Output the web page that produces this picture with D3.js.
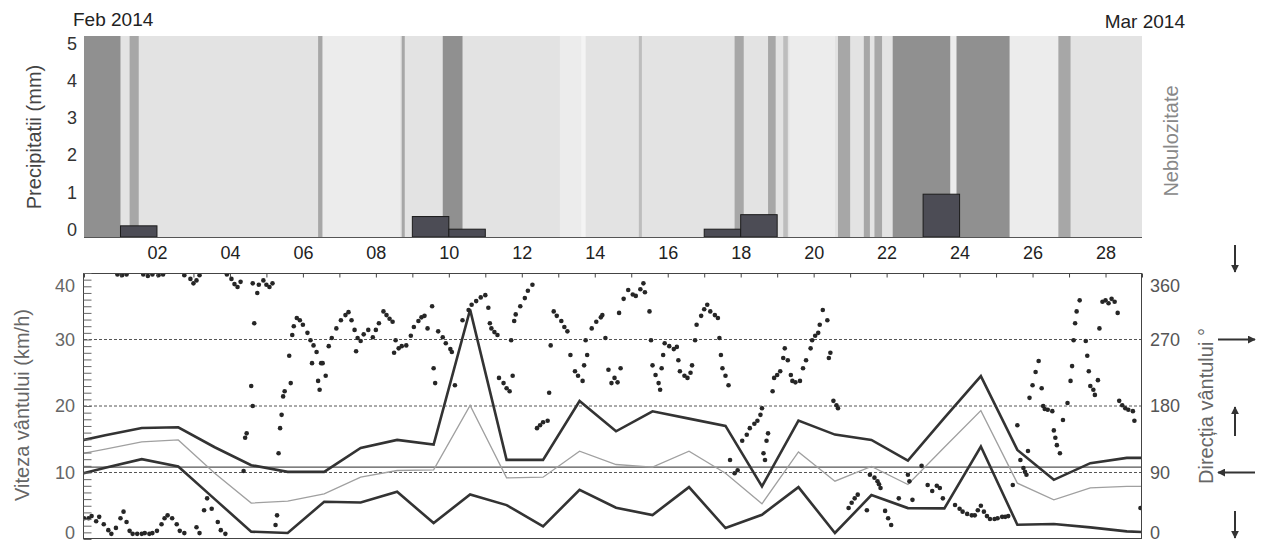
<!DOCTYPE html>
<html>
<head>
<meta charset="utf-8">
<script src="https://cdn.jsdelivr.net/npm/d3@7"></script>
<style>
body { margin: 0; background: #fff; }
svg { font-family: "Liberation Sans", Arial, sans-serif; }
</style>
</head>
<body>
<div id="app"></div>
<script>
const width = 1269, height = 544;
const hour = 3600e3;
const start = Date.UTC(2014, 0, 31), end = Date.UTC(2014, 2, 1);

// nebulosity bands, hours from 31 Jan 00:00, level 0..8 (base level 2)
const cloudFrom  = [0, 30, 154, 157, 209, 236, 313, 327, 365, 428, 450, 460, 464, 496, 513, 520, 532, 570, 574, 609, 641];
const cloudTo    = [24, 36, 157, 208, 211, 249, 327, 330, 367, 434, 455, 463, 494, 504, 517, 525, 570, 574, 609, 641, 649];
const cloudLevel = [7, 6, 6, 1, 6, 7, 1, 0, 5, 6, 6, 5, 1, 6, 6, 6, 7, 1, 7, 1, 6];

// daily precipitation (mm)
const precipDays   = ["2014-02-01", "2014-02-09", "2014-02-10", "2014-02-17", "2014-02-18", "2014-02-23"];
const precipValues = [0.1, 0.35, 0.01, 0.01, 0.4, 0.95];

// daily wind speed (km/h), 30 Jan .. 1 Mar
const windMax  = [14.4, 15.6, 16.7, 16.8, 13.8, 11.1, 10.1, 10.1, 13.7, 14.9, 14.2, 34.5, 11.9, 11.9, 20.75, 16.2,
                  19.2, 18.1, 17.0, 7.9, 17.8, 15.7, 14.9, 11.8, 18.2, 24.5, 13.4, 8.9, 11.4, 12.2, 12.2];
const windMean = [12.5, 13.5, 14.6, 14.9, 9.9, 5.4, 5.7, 6.8, 9.3, 10.3, 10.4, 20.1, 9.2, 9.3, 13.2, 11.2,
                  10.8, 13.2, 9.9, 5.3, 13.1, 8.7, 10.9, 8.2, 13.8, 19.3, 8.4, 5.9, 7.7, 7.9, 7.9];
const windMin  = [9.35, 10.7, 12.0, 10.9, 6.0, 1.1, 0.9, 5.6, 5.5, 7.1, 2.4, 6.7, 5.1, 1.9, 7.4, 4.7,
                  3.6, 7.8, 1.65, 3.65, 7.8, 0.9, 6.6, 4.65, 4.6, 13.9, 2.15, 2.25, 1.75, 1.15, 0.9];
const calmLimit = 10.8; // 3 m/s

// hourly wind direction [hour from 31 Jan 00:00, degrees]
const windDirection = [
  [0,28],[3,28],[5,31],[8,24],[10,30],[13,20],[16,12],[18,7],[21,15],[24,28],[26,37],[28,23],[30,11],[32,7],[35,7],
  [38,7],[40,8],[43,7],[45,8],[48,11],[51,20],[53,28],[55,32],[58,28],[61,20],[63,11],[66,8],[74,16],[76,8],[79,39],
  [81,55],[84,41],[88,23],[90,12],[93,7],
  [22,358],[25,357],[28,358],[39,358],[42,356],[45,358],[49,357],[52,358],[66,357],[70,352],[72,346],[74,350],[76,357],
  [94,358],[97,352],[99,345],[101,341],[103,348],[111,346],[114,333],[115,344],[118,350],[120,344],[122,341],[124,346],
  [105,92],[106,137],[107,143],[111,180],[110,207],[112,292],[126,19],[127,32],[128,116],[129,150],[130,168],[131,193],
  [132,200],[136,211],[135,248],[137,276],[138,288],
  [140,299],[142,296],[144,290],[147,279],[149,269],[151,262],[153,253],[150,238],[154,214],[155,202],[156,238],[157,238],
  [159,221],[161,261],[163,272],[166,285],[169,296],[172,303],[174,307],[176,296],[178,283],[180,272],[182,268],[179,254],
  [184,277],[187,283],[190,273],[192,283],[194,292],[197,308],[199,303],[201,298],[203,294],[205,269],[204,252],[207,258],
  [209,261],[212,262],[215,275],[217,287],[220,295],[222,300],[224,302],[226,285],[229,315],[230,231],[231,211],[233,281],
  [236,273],[238,265],[241,257],[242,253],[244,208],[249,296],[253,310],[255,317],[258,322],[261,327],[264,330],[266,313],
  [267,292],[268,285],[270,280],[272,276],[273,218],[276,211],[278,204],[280,200],[282,221],[281,269],[283,295],[284,304],
  [287,315],[290,326],[292,336],[295,344],[298,150],[300,154],[302,158],[305,160],[306,198],[307,262],[309,308],[311,302],
  [314,295],[316,287],[318,281],[320,249],[323,227],[325,221],[328,214],[329,235],[331,249],[330,269],[334,285],[337,294],
  [340,300],[341,303],[343,272],[345,229],[347,211],[349,218],[351,212],[353,231],[352,306],[355,325],[358,337],[361,331],
  [363,329],[366,338],[368,346],[369,334],[372,308],[373,269],[374,235],[376,222],[378,211],[379,202],[380,231],[381,249],
  [382,265],[385,261],[388,257],[390,260],[391,242],[392,227],[395,221],[397,218],[399,225],[400,235],[402,269],[403,290],
  [406,302],[408,311],[410,317],[412,308],[415,303],[417,299],[418,272],[419,249],[420,231],[422,221],[424,208],[425,107],
  [428,89],[430,93],[433,133],[436,141],[438,150],[441,156],[443,160],[445,168],[446,177],[447,116],[448,107],[449,133],
  [450,143],[453,200],[454,218],[456,222],[458,227],[460,245],[461,258],[463,242],[465,222],[466,214],[468,212],[471,214],
  [473,231],[475,242],[478,258],[479,269],[481,275],[483,279],[484,290],[486,310],[489,296],[490,245],[491,252],[493,187],
  [495,181],[496,177],[503,42],[505,49],[507,55],[509,60],[515,39],[517,87],[520,83],[522,78],[523,74],[524,69],[527,38],
  [529,28],[531,19],[536,55],[542,87],[543,78],[545,53],[551,99],[555,73],[558,65],[561,72],[563,69],[565,55],[573,46],
  [576,41],[578,37],[581,34],[584,32],[586,32],[588,39],[590,45],[592,37],[594,31],[596,27],[599,27],[601,28],[604,30],
  [606,30],[608,31],[611,73],[614,154],[616,107],[618,96],[619,91],[620,87],[621,119],[622,191],[624,208],[626,226],
  [628,241],[630,204],[631,180],[632,176],[634,175],[637,173],[638,147],[639,137],[640,127],[642,116],[644,161],[647,184],
  [649,214],[650,234],[651,269],[652,292],[653,308],[655,323],[659,268],[660,248],[661,227],[662,207],[664,202],[665,195],
  [667,215],[668,285],[670,321],[672,323],[674,319],[676,325],[678,321],[680,306],[681,187],[683,181],[685,177],[687,175],
  [690,173],[691,160],[695,42]
];

const speedTicks = [0, 10, 20, 30, 40];
const dirTicks = [0, 90, 180, 270, 360];
const precipTicks = [0, 1, 2, 3, 4, 5];
const arrowLevels = [360, 270, 180, 90, 0];
const arrowDirs = ["down", "right", "up", "left", "down"];

const x = d3.scaleUtc().domain([start, end]).range([84, 1142]);
const yP = d3.scaleLinear().domain([-0.2, 5.2]).range([237, 36]);
const yS = d3.scaleLinear().domain([0, 40]).range([539, 273]);
const yD = d3.scaleLinear().domain([0, 360]).range([539, 273]);
const cloudColor = d3.scaleLinear().domain([0, 2, 5, 8])
    .range(["#f4f4f4", "#e3e3e3", "#bdbdbd", "#7a7a7a"]);

const svg = d3.select("#app").append("svg")
    .attr("width", width)
    .attr("height", height);

svg.append("defs").append("marker")
    .attr("id", "head")
    .attr("viewBox", "0 0 10 10")
    .attr("refX", 9).attr("refY", 5)
    .attr("markerWidth", 4).attr("markerHeight", 4)
    .attr("orient", "auto-start-reverse")
    .append("path").attr("d", "M0,0L10,5L0,10z").attr("fill", "#333");

svg.select("defs").append("clipPath").attr("id", "clipB")
    .append("rect").attr("x", 83).attr("y", 273).attr("width", 1059).attr("height", 266);

// ---- top panel: nebulosity + precipitation
svg.append("rect")
    .attr("x", x(start)).attr("y", yP(5.2))
    .attr("width", x(end) - x(start)).attr("height", yP(-0.2) - yP(5.2))
    .attr("fill", cloudColor(2));

svg.append("g").selectAll("rect")
    .data(cloudFrom.map((f, i) => ({f, t: cloudTo[i], l: cloudLevel[i]})))
    .enter().append("rect")
    .attr("x", d => x(start + d.f * hour))
    .attr("width", d => x(start + d.t * hour) - x(start + d.f * hour))
    .attr("y", yP(5.2))
    .attr("height", yP(-0.2) - yP(5.2))
    .attr("fill", d => cloudColor(d.l));

svg.append("g").selectAll("rect")
    .data(precipDays.map((d, i) => ({day: Date.parse(d), v: precipValues[i]})))
    .enter().append("rect")
    .attr("x", d => x(d.day))
    .attr("width", d => x(d.day + 24 * hour) - x(d.day))
    .attr("y", d => yP(d.v))
    .attr("height", d => yP(-0.2) - yP(d.v))
    .attr("fill", "#4c4c55")
    .attr("stroke", "#1c1c1c");

svg.append("line")
    .attr("x1", x(start)).attr("x2", x(end))
    .attr("y1", yP(-0.2) + 0.5).attr("y2", yP(-0.2) + 0.5)
    .attr("stroke", "#555");

const pAxis = svg.append("g")
    .attr("transform", "translate(83,0)")
    .call(d3.axisLeft(yP).tickValues(precipTicks).tickFormat(d3.format("d")).tickSize(0).tickPadding(6));
pAxis.select(".domain").remove();
pAxis.selectAll("text").attr("font-size", 18).attr("fill", "#333").attr("font-family", null);

const dayTicks = d3.range(2, 29, 2).map(d => Date.UTC(2014, 1, d));
const xAxis = svg.append("g")
    .attr("transform", "translate(0," + yP(-0.2) + ")")
    .call(d3.axisBottom(x).tickValues(dayTicks).tickFormat(d3.utcFormat("%d")).tickSize(0).tickPadding(9));
xAxis.select(".domain").remove();
xAxis.selectAll("text").attr("font-size", 18).attr("fill", "#222").attr("font-family", null);

// ---- bottom panel: wind speed + direction
const gridG = svg.append("g");
gridG.selectAll("line.grid")
    .data([10, 20, 30]).enter().append("line")
    .attr("x1", x(start)).attr("x2", x(end))
    .attr("y1", d => yS(d)).attr("y2", d => yS(d))
    .attr("stroke", "#555").attr("stroke-dasharray", "3,2");
gridG.append("line")
    .attr("x1", x(start)).attr("x2", x(end))
    .attr("y1", yS(calmLimit)).attr("y2", yS(calmLimit))
    .attr("stroke", "#555").attr("stroke-width", 1.2);

const statDays = d3.utcDays(Date.UTC(2014, 0, 30), Date.UTC(2014, 2, 2));
const stat = (arr) => arr.map((v, i) => ({t: +statDays[i] + 14 * hour, v}));
const line = d3.line().x(d => x(d.t)).y(d => yS(d.v));

const lines = svg.append("g").attr("clip-path", "url(#clipB)");
lines.append("path").datum(stat(windMean))
    .attr("d", line).attr("fill", "none").attr("stroke", "#a0a0a0").attr("stroke-width", 1.3);
lines.append("path").datum(stat(windMax))
    .attr("d", line).attr("fill", "none").attr("stroke", "#333").attr("stroke-width", 2.6);
lines.append("path").datum(stat(windMin))
    .attr("d", line).attr("fill", "none").attr("stroke", "#333").attr("stroke-width", 2.6);

lines.append("g").selectAll("circle")
    .data(windDirection).enter().append("circle")
    .attr("cx", d => x(start + d[0] * hour))
    .attr("cy", d => yD(d[1]))
    .attr("r", 2.3)
    .attr("fill", "#262626");

svg.append("rect")
    .attr("x", 83.5).attr("y", 273.5).attr("width", 1058).attr("height", 265)
    .attr("fill", "none").attr("stroke", "#444");

svg.append("g")
    .attr("transform", "translate(0,273.5)")
    .call(d3.axisTop(x).ticks(d3.utcDay.every(1)).tickSize(-4).tickFormat(""))
    .call(g => g.select(".domain").remove())
    .selectAll("line").attr("stroke", "#444");

svg.append("g")
    .attr("transform", "translate(83.5,0)")
    .call(d3.axisLeft(yS).tickValues(d3.range(0, 41, 1)).tickSize(-8).tickFormat(""))
    .call(g => g.select(".domain").remove())
    .selectAll("line").attr("stroke", "#666");

const sAxis = svg.append("g")
    .attr("transform", "translate(83,0)")
    .call(d3.axisLeft(yS).tickValues(speedTicks).tickSize(0).tickPadding(8));
sAxis.select(".domain").remove();
sAxis.selectAll("text").attr("font-size", 18).attr("fill", "#666").attr("font-family", null)
    .attr("dy", d => d === 40 ? "1.05em" : d === 0 ? "-0.05em" : "0.32em");

const dAxis = svg.append("g")
    .attr("transform", "translate(1142,0)")
    .call(d3.axisRight(yD).tickValues(dirTicks).tickSize(0).tickPadding(8));
dAxis.select(".domain").remove();
dAxis.selectAll("text").attr("font-size", 18).attr("fill", "#555").attr("font-family", null)
    .attr("dy", d => d === 360 ? "1.05em" : d === 0 ? "-0.05em" : "0.32em");

// wind arrows
const arrows = svg.append("g").attr("stroke", "#333").attr("stroke-width", 2);
arrowLevels.forEach((lev, i) => {
  const dir = arrowDirs[i], yy = yD(lev);
  let seg;
  if (dir === "down") seg = [1235, yy - 28, 1235, yy - 1];
  else if (dir === "up") seg = [1235, yy + 30, 1235, yy + 1];
  else if (dir === "right") seg = [1218, yy, 1255, yy];
  else seg = [1255, yy, 1218, yy];
  arrows.append("line")
      .attr("x1", seg[0]).attr("y1", seg[1]).attr("x2", seg[2]).attr("y2", seg[3])
      .attr("marker-end", "url(#head)");
});

// ---- titles
svg.append("text").attr("x", 73).attr("y", 26).attr("font-size", 19).attr("fill", "#222").text("Feb 2014");
svg.append("text").attr("x", 1185).attr("y", 28).attr("text-anchor", "end")
    .attr("font-size", 19).attr("fill", "#222").text("Mar 2014");

const vTitle = (cx, cy, txt, col) => svg.append("text")
    .attr("transform", "translate(" + cx + "," + cy + ") rotate(-90)")
    .attr("text-anchor", "middle").attr("dy", "0.35em")
    .attr("font-size", 20).attr("fill", col).text(txt);

vTitle(34, 137, "Precipitatii (mm)", "#444");
vTitle(22, 405, "Viteza vântului (km/h)", "#666");
vTitle(1171, 141, "Nebulozitate", "#888");
vTitle(1206, 406, "Direcția vântului °", "#666");
</script>
</body>
</html>
